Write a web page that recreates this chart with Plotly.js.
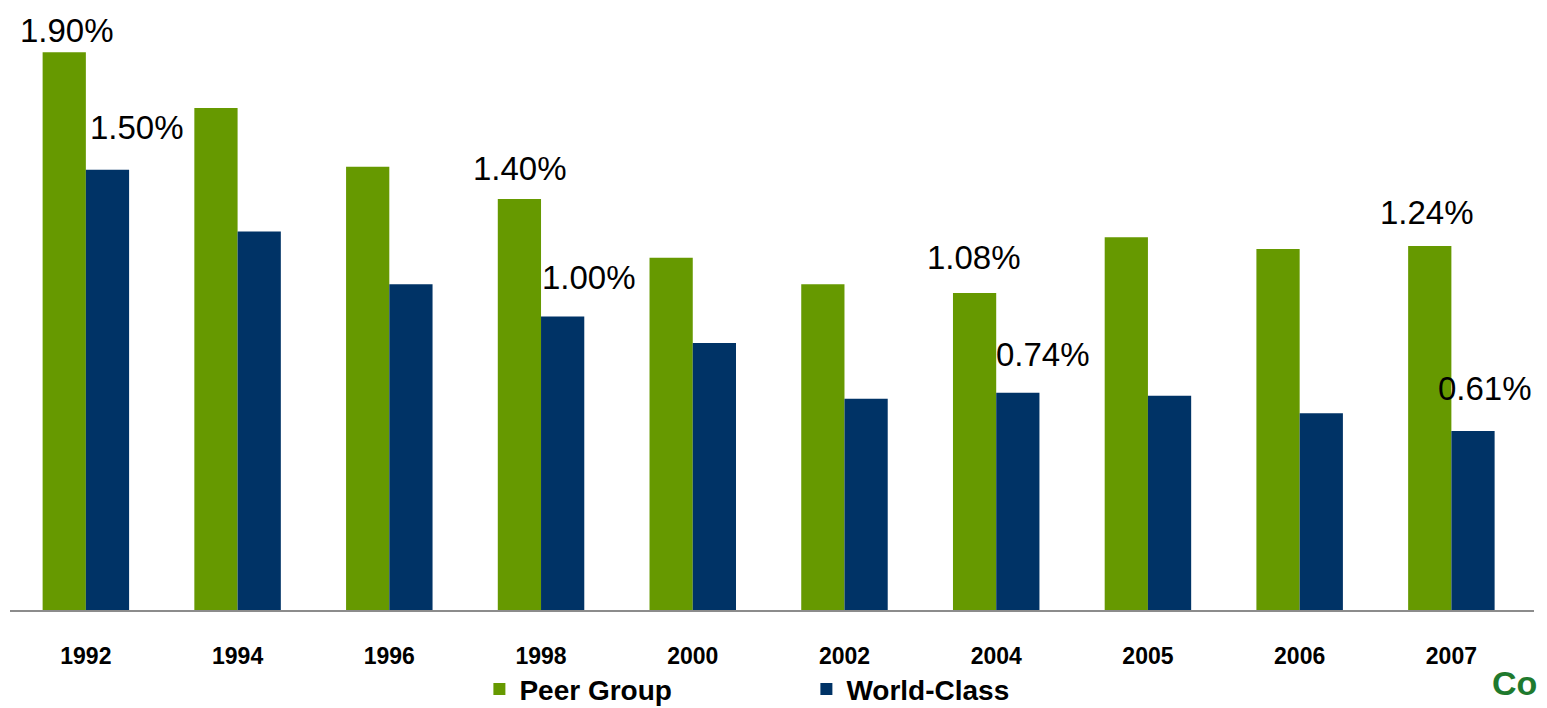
<!DOCTYPE html>
<html>
<head>
<meta charset="utf-8">
<script src="https://cdn.plot.ly/plotly-3.0.1.min.js"></script>
<style>
  html, body { margin: 0; padding: 0; background: #ffffff; }
  #chart { width: 1547px; height: 708px; }
</style>
</head>
<body>
<div id="chart"></div>
<script>
// ---- data ----
const years = ['1992', '1994', '1996', '1998', '2000', '2002', '2004', '2005', '2006', '2007'];
const peerGroup = [1.90, 1.71, 1.51, 1.40, 1.20, 1.11, 1.08, 1.27, 1.23, 1.24];
const worldClass = [1.50, 1.29, 1.11, 1.00, 0.91, 0.72, 0.74, 0.73, 0.67, 0.61];
const peerLabels = ['1.90%', '', '', '1.40%', '', '', '1.08%', '', '', '1.24%'];
const worldLabels = ['1.50%', '', '', '1.00%', '', '', '0.74%', '', '', '0.61%'];
const seriesNames = ['Peer Group', 'World-Class'];

// ---- styling ----
const GREEN = '#669900';
const BLUE = '#003366';
const FONT = 'Liberation Sans, Arial, sans-serif';

const traces = [
  { type: 'bar', name: seriesNames[0], x: years, y: peerGroup,
    marker: { color: GREEN, line: { width: 0 } }, hoverinfo: 'skip' },
  { type: 'bar', name: seriesNames[1], x: years, y: worldClass,
    marker: { color: BLUE, line: { width: 0 } }, hoverinfo: 'skip' }
];

// label placement tweaks (pixel shifts relative to bar top / bar centre)
const peerShift = { '1992': [3, 22], '1998': [1, 31], '2004': [-1, 36], '2007': [-3, 34] };
const worldShift = { '1992': [30, 42], '1998': [26, 39], '2004': [25, 38], '2007': [12, 42] };
const half = 0.1425; // half of a single bar width in category units

const annotations = [];
years.forEach((yr, i) => {
  if (peerLabels[i]) {
    const s = peerShift[yr] || [0, 32];
    annotations.push({ x: i - half, y: peerGroup[i], xref: 'x', yref: 'y',
      text: peerLabels[i], showarrow: false, xanchor: 'center', yanchor: 'middle',
      xshift: s[0], yshift: s[1], font: { family: FONT, size: 33, color: '#000' } });
  }
  if (worldLabels[i]) {
    const s = worldShift[yr] || [25, 38];
    annotations.push({ x: i + half, y: worldClass[i], xref: 'x', yref: 'y',
      text: worldLabels[i], showarrow: false, xanchor: 'center', yanchor: 'middle',
      xshift: s[0], yshift: s[1], font: { family: FONT, size: 33, color: '#000' } });
  }
});
// partially visible logo text in the bottom-right corner
annotations.push({ x: 1, y: -0.16, xref: 'paper', yref: 'paper', text: '<b>Co</b>',
  showarrow: false, xanchor: 'left', yanchor: 'bottom', xshift: -44,
  font: { family: FONT, size: 34, color: '#1f7a2e' } });

const layout = {
  width: 1547, height: 708,
  margin: { l: 10, r: 13, t: 23, b: 98, autoexpand: false },
  paper_bgcolor: '#ffffff', plot_bgcolor: '#ffffff',
  barmode: 'group', bargap: 0.43, bargroupgap: 0,
  showlegend: true,
  legend: { orientation: 'h', x: 0.308, y: -0.135, xanchor: 'left', yanchor: 'middle',
    font: { family: FONT, size: 28, color: '#000', weight: 'bold' },
    itemwidth: 30, entrywidth: 282, traceorder: 'normal', bgcolor: 'rgba(0,0,0,0)' },
  xaxis: { type: 'category', showgrid: false, zeroline: false, automargin: false,
    showline: true, linecolor: '#8c8c8c', linewidth: 2,
    ticks: 'outside', ticklen: 24, tickcolor: 'rgba(0,0,0,0)',
    tickfont: { family: FONT, size: 23, color: '#000', weight: 'bold' } },
  yaxis: { range: [0, 2.0], showgrid: false, zeroline: false, showline: false,
    showticklabels: false, ticks: '', automargin: false },
  annotations: annotations
};

Plotly.newPlot('chart', traces, layout, { staticPlot: true, displayModeBar: false });
</script>
</body>
</html>
